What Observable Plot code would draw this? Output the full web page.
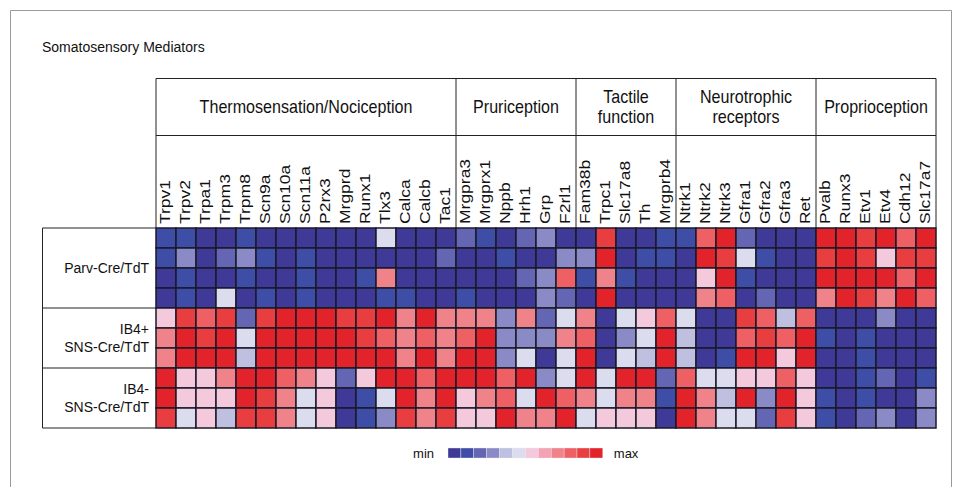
<!DOCTYPE html>
<html><head><meta charset="utf-8">
<script src="https://cdn.jsdelivr.net/npm/d3@7"></script>
<script src="https://cdn.jsdelivr.net/npm/@observablehq/plot@0.6"></script>
<style>
body{margin:0;background:#fff;}
svg{font-family:"Liberation Sans",Arial,sans-serif;}
</style>
</head><body><div id="chart"></div>
<script>
const title = "Somatosensory Mediators";
const genes = ["Trpv1","Trpv2","Trpa1","Trpm3","Trpm8","Scn9a","Scn10a","Scn11a","P2rx3","Mrgprd","Runx1","Tlx3","Calca","Calcb","Tac1",
  "Mrgpra3","Mrgprx1","Nppb","Hrh1","Grp","F2rl1",
  "Fam38b","Trpc1","Slc17a8","Th","Mrgprb4",
  "Ntrk1","Ntrk2","Ntrk3","Gfra1","Gfra2","Gfra3","Ret",
  "Pvalb","Runx3","Etv1","Etv4","Cdh12","Slc17a7"];
const groupNames = [["Thermosensation/Nociception"],["Pruriception"],["Tactile","function"],["Neurotrophic","receptors"],["Proprioception"]];
const groupSizes = [15,6,5,7,6];
const sampleNames = [["Parv-Cre/TdT"],["IB4+","SNS-Cre/TdT"],["IB4-","SNS-Cre/TdT"]];
const sampleReps = [4,3,3];
const levels = [0,1,2,3,4,5,6,7,8,9,10,11];
const palette = ["#3f3a97","#3e4ea7","#6466b4","#8a8ac7","#bfc0e0","#dcdcef","#f4c9dc","#f3a3b1","#f0828a","#ee6064","#e93e40","#e2232a"];
const legendLabels = ["min","max"];

const parvRows = [
  [1,1,0,0,1,0,0,0,0,0,0,5,0,0,0,2,1,0,2,3,0,0,10,0,0,1,1,9,11,2,0,0,0,11,11,10,11,9,11],
  [1,3,0,2,3,1,0,1,0,0,0,0,0,0,2,0,0,1,0,0,3,3,11,0,1,1,0,11,10,5,1,0,0,10,11,10,6,10,10],
  [0,1,0,0,1,0,0,1,0,0,1,8,0,0,0,0,0,0,2,3,9,1,8,1,0,0,0,6,11,1,0,0,0,11,11,11,11,9,11],
  [0,1,0,5,0,1,0,1,0,0,0,1,1,0,0,1,0,0,0,3,2,0,11,0,0,0,0,8,9,0,2,0,0,8,11,10,8,11,9]
];
const ib4posRows = [
  [6,10,9,10,2,10,11,11,11,10,10,11,8,11,8,8,8,3,8,2,5,8,0,5,6,9,5,0,0,10,9,4,9,0,0,0,3,0,0],
  [8,11,10,11,5,11,11,11,11,11,10,9,8,9,8,9,11,3,3,3,8,9,0,3,5,11,4,0,0,9,10,9,11,1,0,1,0,0,0],
  [8,11,11,11,4,11,11,11,11,11,11,11,8,11,8,11,11,3,5,0,5,11,0,5,4,11,4,0,1,11,11,6,11,0,0,1,0,0,0]
];
const ib4negRows = [
  [11,6,6,8,11,11,9,8,6,2,6,11,11,9,11,11,11,9,11,3,5,11,5,11,11,2,9,5,5,6,6,9,6,0,0,1,2,0,1],
  [11,6,6,6,11,10,8,5,6,0,1,5,11,8,11,6,8,9,5,11,9,8,5,8,8,1,11,8,4,11,3,11,6,1,0,1,0,0,3],
  [10,5,6,4,10,10,8,5,6,0,1,3,10,8,10,6,6,11,8,8,11,5,6,6,6,0,11,8,5,5,2,10,6,1,0,2,3,0,3]
];

const allRows = [...parvRows, ...ib4posRows, ...ib4negRows];
const rowIds = allRows.map((_, i) => "r" + i);
const cells = [];
allRows.forEach((vals, r) => vals.forEach((v, c) => cells.push({gene: genes[c], row: rowIds[r], v})));

const colorScale = Plot.scale({color: {type: "ordinal", domain: levels, range: palette}});

function frameMark(index, scales, values, dims) {
  const g = d3.create("svg:g");
  g.append("path").attr("d", `M10.5,${dims.height + 5}V10.5H951.5V${dims.height + 5}`)
    .attr("fill", "none").attr("stroke", "#9a9a9a").attr("stroke-width", 1);
  g.append("text").attr("x", 42).attr("y", 52).attr("text-anchor", "start")
    .attr("font-size", 14).attr("fill", "#111").text(title);
  return g.node();
}

// gene names, rotated, positioned with the plot's x band scale
function geneLabelMark(index, scales, values, dims) {
  const x = scales.x;
  const bw = x(genes[1]) - x(genes[0]);
  const g = d3.create("svg:g").attr("fill", "#111").attr("font-size", 17.5).attr("text-anchor", "start");
  genes.forEach(name => {
    g.append("text")
      .attr("transform", `translate(${x(name) + bw / 2},${dims.marginTop - 4}) rotate(-90) scale(1,0.8)`)
      .attr("dy", "0.32em").text(name);
  });
  return g.node();
}

function headerMark(index, scales, values, dims) {
  const x = scales.x, y = scales.y;
  const bw = x(genes[1]) - x(genes[0]);
  const bh = y(rowIds[1]) - y(rowIds[0]);
  const g = d3.create("svg:g").attr("fill", "none").attr("stroke", "#222").attr("stroke-width", 1);
  const left = x(genes[0]), right = x(genes[genes.length - 1]) + bw;
  const top = 78.5, mid = 135.5, bottom = y(rowIds[0]);
  g.append("path").attr("d", `M${left},${top}H${right}M${left},${mid}H${right}M${left},${top}V${bottom}M${right},${top}V${bottom}`);
  const t = d3.create("svg:g").attr("fill", "#111").attr("text-anchor", "middle");
  let start = 0;
  groupSizes.forEach((n, i) => {
    const x0 = x(genes[start]), x1 = x(genes[start + n - 1]) + bw;
    if (i > 0) g.append("path").attr("d", `M${x0},${top}V${bottom}`);
    const lines = groupNames[i];
    const cy = (top + mid) / 2;
    lines.forEach((s, j) => {
      const ty = cy + (j - (lines.length - 1) / 2) * 20;
      t.append("text").attr("font-size", 17.5)
        .attr("transform", `translate(${(x0 + x1) / 2},${ty}) scale(0.92,1)`)
        .attr("dy", "0.35em").text(s);
    });
    start += n;
  });
  // row label box
  const boxL = 42.5;
  let r = 0;
  const yTop = y(rowIds[0]), yBot = y(rowIds[rowIds.length - 1]) + bh;
  g.append("path").attr("d", `M${boxL},${yTop}V${yBot}`);
  g.append("path").attr("d", `M${boxL},${yTop}H${left}`);
  sampleReps.forEach((n, i) => {
    const y0 = y(rowIds[r]), y1 = y(rowIds[r + n - 1]) + bh;
    g.append("path").attr("d", `M${boxL},${y1}H${left}`);
    const lines = sampleNames[i];
    lines.forEach((s, j) => {
      t.append("text").attr("font-size", 14).attr("x", left - 7).attr("text-anchor", "end")
        .attr("y", (y0 + y1) / 2 + (j - (lines.length - 1) / 2) * 18).attr("dy", "0.35em").text(s);
    });
    r += n;
  });
  const out = d3.create("svg:g");
  out.append(() => g.node());
  out.append(() => t.node());
  return out.node();
}

function legendMark(index, scales, values, dims) {
  const g = d3.create("svg:g");
  const x0 = 448, w = 12.9, yb = 448, h = 10;
  levels.forEach((lv, i) => {
    g.append("rect").attr("x", x0 + i * w).attr("y", yb).attr("width", w).attr("height", h)
      .attr("fill", colorScale.apply(lv)).attr("stroke", "#e8e8f0").attr("stroke-width", 0.4);
  });
  g.append("text").attr("x", x0 - 14).attr("y", yb + h / 2).attr("dy", "0.35em").attr("text-anchor", "end")
    .attr("font-size", 13).attr("fill", "#111").text(legendLabels[0]);
  g.append("text").attr("x", x0 + levels.length * w + 11).attr("y", yb + h / 2).attr("dy", "0.35em")
    .attr("text-anchor", "start").attr("font-size", 13).attr("fill", "#111").text(legendLabels[1]);
  return g.node();
}

const chart = Plot.plot({
  width: 962, height: 487,
  marginLeft: 156, marginRight: 26, marginTop: 228, marginBottom: 59,
  x: {type: "band", domain: genes, padding: 0, axis: null},
  y: {type: "band", domain: rowIds, padding: 0, axis: null},
  color: {type: "ordinal", domain: levels, range: palette},
  style: {fontFamily: "'Liberation Sans', Arial, sans-serif", fontSize: "14px", background: "#fff", color: "#111", overflow: "visible"},
  marks: [
    frameMark,
    Plot.cell(cells, {x: "gene", y: "row", fill: "v", stroke: "#1a1a2a", strokeWidth: 1.5}),
    geneLabelMark,
    headerMark,
    legendMark
  ]
});
document.getElementById("chart").append(chart);
</script>
</body></html>
